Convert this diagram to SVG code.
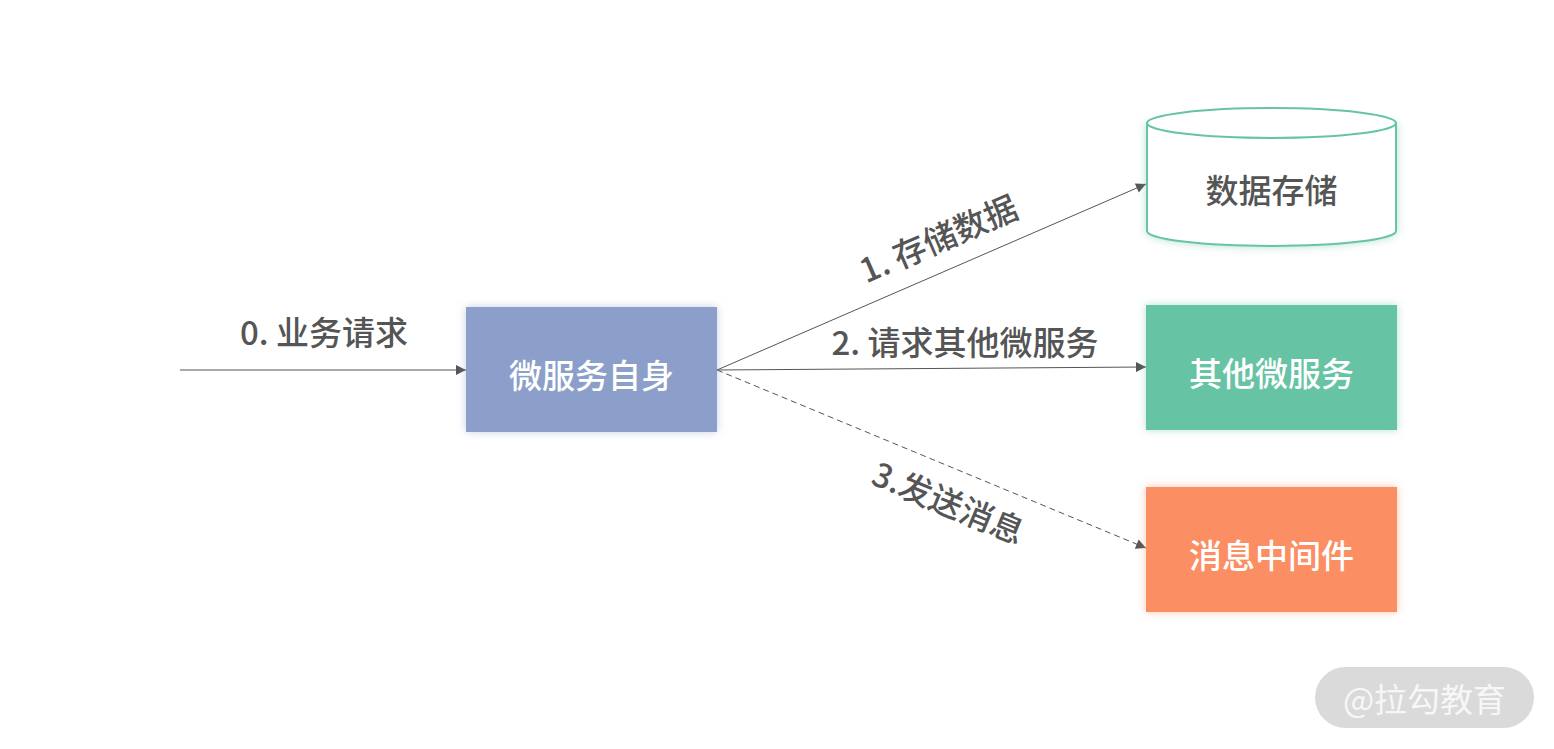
<svg xmlns="http://www.w3.org/2000/svg" width="1554" height="749" viewBox="0 0 1554 749">
<style>
.lbl{font-family:"Noto Sans CJK SC","Noto Sans",sans-serif;font-size:33px;font-weight:500;fill:#555555;text-anchor:middle}
.nt{font-family:"Noto Sans CJK SC","Noto Sans",sans-serif;font-size:33px;font-weight:500;fill:#ffffff;text-anchor:middle;dominant-baseline:central}
.ln{stroke:#555555;stroke-width:1;fill:none;marker-end:url(#ah)}
</style>
<defs>
<marker id="ah" viewBox="0 0 10 10" refX="10" refY="5" markerWidth="12" markerHeight="10" markerUnits="userSpaceOnUse" orient="auto">
<path d="M0,0 L10,5 L0,10 Z" fill="#555555"/>
</marker>
<filter id="sb" x="-20%" y="-30%" width="140%" height="160%"><feDropShadow dx="0" dy="0" stdDeviation="4" flood-color="#8C9FCA" flood-opacity="0.5"/></filter>
<filter id="sg" x="-20%" y="-30%" width="140%" height="160%"><feDropShadow dx="0" dy="0" stdDeviation="4" flood-color="#66C3A3" flood-opacity="0.5"/></filter>
<filter id="so" x="-20%" y="-30%" width="140%" height="160%"><feDropShadow dx="0" dy="0" stdDeviation="4" flood-color="#FC8E64" flood-opacity="0.5"/></filter>
</defs>
<rect width="1554" height="749" fill="#ffffff"/>
<g id="connectors">
<line class="ln" x1="180" y1="370" x2="466" y2="370"/>
<line class="ln" x1="717" y1="370" x2="1146" y2="184"/>
<line class="ln" x1="717" y1="370" x2="1146" y2="367"/>
<line class="ln" x1="717" y1="370" x2="1146" y2="548" stroke-dasharray="6,4"/>
<text class="lbl" x="324" y="345">0. 业务请求</text>
<text class="lbl" transform="translate(939,240) rotate(-23.4)" x="0" y="11">1. 存储数据</text>
<text class="lbl" x="965" y="355">2. 请求其他微服务</text>
<text class="lbl" transform="translate(948,504) rotate(22.5)" x="0" y="11">3.发送消息</text>
</g>
<g id="self">
<rect x="466" y="307" width="251" height="125" fill="#8C9FCA" filter="url(#sb)"/>
<text class="nt" x="591.5" y="374">微服务自身</text>
</g>
<g id="storage">
<path d="M1147,123 L1147,231 A124.5,15 0 0 0 1396,231 L1396,123" fill="#ffffff" stroke="#67C4A2" stroke-width="2" filter="url(#sg)"/>
<ellipse cx="1271.5" cy="123" rx="124.5" ry="15" fill="#ffffff" stroke="#67C4A2" stroke-width="2"/>
<text class="nt" x="1271.5" y="189" style="fill:#555555">数据存储</text>
</g>
<g id="other">
<rect x="1146" y="305" width="251" height="125" fill="#66C3A3" filter="url(#sg)"/>
<text class="nt" x="1271.5" y="372">其他微服务</text>
</g>
<g id="mq">
<rect x="1146" y="487" width="251" height="125" fill="#FC8E64" filter="url(#so)"/>
<text class="nt" x="1271.5" y="554">消息中间件</text>
</g>
<g id="watermark">
<rect x="1315" y="667" width="219" height="61" rx="30.5" fill="#DADADA"/>
<text x="1424.5" y="698" style="font-family:'Noto Sans CJK SC',sans-serif;font-size:33px;fill:#F7F7F7;text-anchor:middle;dominant-baseline:central">@拉勾教育</text>
</g>
</svg>
